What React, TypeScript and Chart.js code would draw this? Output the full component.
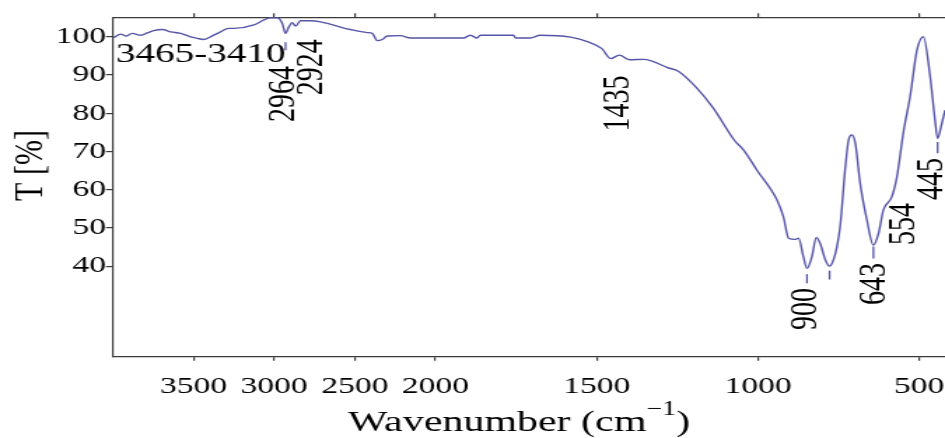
import React, { useEffect, useRef } from "react";
import { Chart, registerables } from "chart.js";

Chart.register(...registerables);

// ---- data ----
const WAVENUMBER = [
  3996, 3952, 3921, 3880, 3828, 3787, 3748, 3694, 3642, 3580, 3519, 3477, 3438, 3395, 3333, 3283,
  3250, 3126, 3064, 3023, 2981, 2950, 2930, 2909, 2888, 2868, 2837, 2775, 2713, 2527, 2423, 2392,
  2361, 2330, 2299, 2217, 2155, 1913, 1892, 1871, 1861, 1758, 1752, 1706, 1675, 1581, 1527, 1484,
  1457, 1430, 1398, 1354, 1279, 1247, 1193, 1139, 1074, 1045, 1003, 941, 921, 905, 884, 874, 859,
  848, 833, 819, 807, 791, 778, 766, 755, 745, 729, 719, 709, 698, 683, 662, 642, 626, 611, 585,
  569, 549, 528, 507, 487, 466, 451, 443, 430, 420,
];
const TRANSMITTANCE = [
  99.8, 100.7, 100.2, 100.9, 100.4, 101.0, 101.6, 101.9, 101.3, 100.9, 100.0, 99.6, 99.3, 100.0, 101.3, 102.2,
  102.2, 103.1, 104.4, 105.0, 105.0, 103.5, 100.9, 102.6, 103.7, 102.8, 104.2, 104.2, 103.9, 101.9, 101.1, 100.9,
  99.0, 99.3, 100.2, 100.3, 99.7, 99.7, 100.4, 99.7, 100.4, 100.4, 99.7, 99.7, 100.4, 99.9, 98.7, 96.9,
  94.3, 95.2, 94.0, 94.1, 91.9, 91.0, 86.9, 81.4, 73.0, 70.4, 65.1, 57.3, 52.9, 47.3, 47.0, 47.3, 42.4,
  39.4, 42.4, 47.5, 45.9, 41.6, 40.0, 41.6, 45.1, 50.5, 66.0, 73.0, 74.3, 72.1, 61.6, 52.0, 45.5, 48.6, 54.7, 58.1,
  63.4, 75.0, 84.5, 96.5, 100.0, 89.5, 78.2, 73.4, 77.3, 80.8,
];

const X_TICK_VALUES = [3500, 3000, 2500, 2000, 1500, 1000, 500];
const Y_TICK_VALUES = [40, 50, 60, 70, 80, 90, 100];
const X_MIN = 420;
const X_MAX = 4000;
const Y_MIN = 16.3;
const Y_MAX = 105.1;
const SCALE_BREAK = 2000; // above this wavenumber the axis is compressed 2:1

const BAND_TEXT = ["3465-3410", "2964", "2924", "1435", "900", "643", "554", "445"];
const BAND_AT = [3983, 2945, 2770, 1433, 851, 639, 549, 461];
const BAND_T = [93.5, 77.7, 84.7, 75.2, 23.3, 29.8, 45.5, 57.3];
const BAND_ROTATED = [false, true, true, true, true, true, true, true];

const MARK_AT = [2930, 848, 778, 642, 443];
const MARK_FROM = [98.6, 37.9, 38.8, 45.1, 72.5];
const MARK_TO = [96.5, 35.5, 36.5, 42.0, 69.5];

// ---- presentation ----
const LINE_COLOR = "#5454a8";
const AXIS_COLOR = "#3a3a3a";
const FONT = '"Liberation Serif", "Times New Roman", serif';
const CANVAS_W = 675; // drawn narrow, shown stretched like the reference
const SHOW_W = 945;
const SHOW_H = 438;

const toAxis = (w: number) => (w > SCALE_BREAK ? SCALE_BREAK + (w - SCALE_BREAK) / 2 : w);
const fromAxis = (u: number) => (u > SCALE_BREAK ? SCALE_BREAK + (u - SCALE_BREAK) * 2 : u);

const noPadding = (s: any) => {
  s.paddingLeft = 0;
  s.paddingRight = 0;
  s.paddingTop = 0;
  s.paddingBottom = 0;
};

const annotatePlugin = {
  id: "annotate",
  afterDatasetsDraw(chart: any) {
    const { ctx } = chart;
    const x = chart.scales.x;
    const y = chart.scales.y;
    ctx.save();
    ctx.strokeStyle = LINE_COLOR;
    ctx.lineWidth = 1.3;
    MARK_AT.forEach((w, i) => {
      const px = x.getPixelForValue(toAxis(w));
      ctx.beginPath();
      ctx.moveTo(px, y.getPixelForValue(MARK_FROM[i]));
      ctx.lineTo(px, y.getPixelForValue(MARK_TO[i]));
      ctx.stroke();
    });
    ctx.fillStyle = "#000";
    ctx.font = `28px ${FONT}`;
    BAND_TEXT.forEach((t, i) => {
      const px = x.getPixelForValue(toAxis(BAND_AT[i]));
      const py = y.getPixelForValue(BAND_T[i]);
      ctx.save();
      ctx.translate(px, py);
      ctx.textAlign = "left";
      if (BAND_ROTATED[i]) {
        ctx.rotate(-Math.PI / 2);
        ctx.textBaseline = "middle";
      } else {
        ctx.textBaseline = "alphabetic";
      }
      ctx.fillText(t, 0, 0);
      ctx.restore();
    });
    ctx.restore();
  },
  afterDraw(chart: any) {
    const { ctx } = chart;
    ctx.save();
    ctx.fillStyle = "#000";
    // x title with superscript
    const main = "Wavenumber (cm";
    const sup = "\u22121";
    const close = ")";
    ctx.font = `30px ${FONT}`;
    const w1 = ctx.measureText(main).width;
    const w3 = ctx.measureText(close).width;
    ctx.font = `20px ${FONT}`;
    const w2 = ctx.measureText(sup).width;
    const total = w1 + w2 + w3;
    let sx = 370.7 - total / 2;
    const base = 431;
    ctx.textAlign = "left";
    ctx.textBaseline = "alphabetic";
    ctx.font = `30px ${FONT}`;
    ctx.fillText(main, sx, base);
    sx += w1;
    ctx.font = `20px ${FONT}`;
    ctx.fillText(sup, sx, base - 16);
    sx += w2;
    ctx.font = `30px ${FONT}`;
    ctx.fillText(close, sx, base);
    // y title
    ctx.translate(22, 165.5);
    ctx.rotate(-Math.PI / 2);
    ctx.textAlign = "center";
    ctx.textBaseline = "middle";
    ctx.font = `30px ${FONT}`;
    ctx.fillText("T [%]", 0, 0);
    ctx.restore();
  },
};

export default function App() {
  const canvasRef = useRef<HTMLCanvasElement | null>(null);

  useEffect(() => {
    document.body.style.margin = "0";
    const canvas = canvasRef.current;
    if (!canvas) return;
    const points = WAVENUMBER.map((w, i) => ({ x: toAxis(w), y: TRANSMITTANCE[i] }));
    const xTicks = () => X_TICK_VALUES.map((v) => ({ value: toAxis(v) }));
    const chart = new Chart(canvas, {
      type: "line",
      data: {
        datasets: [
          {
            data: points,
            borderColor: LINE_COLOR,
            borderWidth: 1.4,
            pointRadius: 0,
            fill: false,
            cubicInterpolationMode: "monotone",
            xAxisID: "x",
            yAxisID: "y",
          },
        ],
      },
      options: {
        responsive: false,
        devicePixelRatio: 1,
        animation: false,
        parsing: false,
        layout: { padding: 0, autoPadding: false },
        plugins: { legend: { display: false }, tooltip: { enabled: false } },
        scales: {
          x: {
            type: "linear",
            position: "bottom",
            reverse: true,
            min: toAxis(X_MIN),
            max: toAxis(X_MAX),
            afterBuildTicks: (s: any) => {
              s.ticks = xTicks();
            },
            afterFit: (s: any) => {
              s.height = 81.3;
              noPadding(s);
            },
            ticks: {
              autoSkip: false,
              maxRotation: 0,
              padding: 12,
              color: "#000",
              font: { family: FONT, size: 24 },
              callback: (v: any) => String(Math.round(fromAxis(Number(v)))),
            },
            grid: { drawOnChartArea: false, drawTicks: true, tickLength: 4, color: AXIS_COLOR, lineWidth: 1.2 },
            border: { display: true, color: AXIS_COLOR, width: 1.2 },
          },
          xTop: {
            type: "linear",
            position: "top",
            reverse: true,
            min: toAxis(X_MIN),
            max: toAxis(X_MAX),
            afterBuildTicks: (s: any) => {
              s.ticks = xTicks();
            },
            afterFit: (s: any) => {
              s.height = 17.3;
              noPadding(s);
            },
            ticks: { display: false },
            grid: { drawOnChartArea: false, drawTicks: true, tickLength: 4, color: AXIS_COLOR, lineWidth: 1.2 },
            border: { display: true, color: AXIS_COLOR, width: 1.2 },
          },
          y: {
            type: "linear",
            position: "left",
            min: Y_MIN,
            max: Y_MAX,
            afterBuildTicks: (s: any) => {
              s.ticks = Y_TICK_VALUES.map((v) => ({ value: v }));
            },
            afterFit: (s: any) => {
              s.width = 80.7;
              noPadding(s);
            },
            ticks: {
              padding: 0,
              color: "#000",
              font: { family: FONT, size: 24 },
              callback: (v: any) => String(v),
            },
            grid: { drawOnChartArea: false, drawTicks: true, tickLength: 5, color: AXIS_COLOR, lineWidth: 1.2 },
            border: { display: true, color: AXIS_COLOR, width: 1.2 },
          },
        },
      } as any,
      plugins: [annotatePlugin],
    });
    return () => chart.destroy();
  }, []);

  return (
    <div style={{ position: "fixed", left: 0, top: 0, width: SHOW_W, height: SHOW_H, background: "#fff" }}>
      <canvas
        ref={canvasRef}
        width={CANVAS_W}
        height={SHOW_H}
        style={{ display: "block", width: `${SHOW_W}px`, height: `${SHOW_H}px` }}
      />
    </div>
  );
}
